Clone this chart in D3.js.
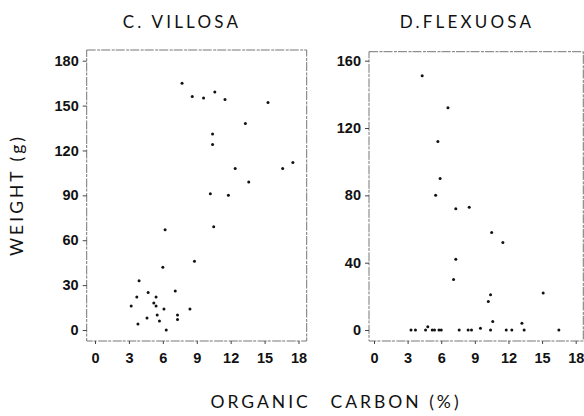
<!DOCTYPE html>
<html lang="en">
<head>
  <meta charset="UTF-8" />
  <title>Weight vs organic carbon</title>
  <script src="https://d3js.org/d3.v7.min.js"></script>
  <style>
    body { margin: 0; background: white; }
    svg { display: block; font-family: Lato, "Open Sans", sans-serif; }
    .tick text { font-size: 14.5px; font-weight: bold; fill: #111; }
    .tick line { stroke: #444; }
    .frame { fill: none; stroke: #666; stroke-width: 0.9; stroke-dasharray: 9,1.5,3,1; }
    .title { font-size: 17px; letter-spacing: 3.2px; fill: #111; }
    .label { font-size: 17.5px; letter-spacing: 3px; fill: #111; }
  </style>
</head>
<body>
<svg width="584" height="416"></svg>
<script>
// C. villosa: organic carbon (%) and weight (g)
const villosaCarbon = [7.7, 8.6, 9.6, 10.6, 11.5, 15.3, 13.3, 10.4, 10.4, 12.4, 16.6, 17.5,
  13.6, 10.2, 11.8, 10.5, 6.2, 8.8, 6.0, 3.9, 3.7, 4.7, 5.4, 3.2, 5.2, 5.4, 6.1, 7.1,
  7.3, 7.3, 8.4, 4.6, 5.5, 5.7, 3.8, 6.3];
const villosaWeight = [165, 156, 155, 159, 154, 152, 138, 131, 124, 108, 108, 112,
  99, 91, 90, 69, 67, 46, 42, 33, 22, 25, 22, 16, 18, 16, 14, 26,
  10, 7, 14, 8, 10, 6, 4, 0];

// D. flexuosa
const flexuosaCarbon = [4.3, 6.6, 5.7, 5.9, 5.5, 7.3, 8.5, 10.5, 11.5, 7.3, 7.1, 10.4,
  10.2, 15.1, 10.6, 13.2, 9.5,
  3.3, 3.7, 4.6, 4.8, 5.2, 5.4, 5.8, 6.0, 7.6, 8.4, 8.7, 10.4, 11.8, 12.3, 13.4, 16.5];
const flexuosaWeight = [151, 132, 112, 90, 80, 72, 73, 58, 52, 42, 30, 21,
  17, 22, 5, 4, 1,
  0, 0, 0, 2, 0, 0, 0, 0, 0, 0, 0, 0, 0, 0, 0, 0];

const xTicks = [0, 3, 6, 9, 12, 15, 18];
const villosaTicks = [0, 30, 60, 90, 120, 150, 180];
const flexuosaTicks = [0, 40, 80, 120, 160];

const svg = d3.select("svg");

const panels = [
  { name: "C. VILLOSA", cx: villosaCarbon, w: villosaWeight, yMax: 180, yTicks: villosaTicks,
    xr: [95, 298.5], frame: [86.7, 50, 306.7, 341], titleX: 182 },
  { name: "D.FLEXUOSA", cx: flexuosaCarbon, w: flexuosaWeight, yMax: 160, yTicks: flexuosaTicks,
    xr: [374, 575.7], frame: [369, 51.7, 583.3, 341], titleX: 467 }
];

panels.forEach(p => {
  const x = d3.scaleLinear().domain([0, 18]).range(p.xr);
  const y = d3.scaleLinear().domain([0, p.yMax]).range([330, 60.7]);
  const [x0, y0, x1, y1] = p.frame;

  svg.append("rect").attr("class", "frame")
    .attr("x", x0).attr("y", y0).attr("width", x1 - x0).attr("height", y1 - y0);

  const ax = svg.append("g").attr("transform", `translate(0,${y1})`)
    .call(d3.axisBottom(x).tickValues(xTicks).tickSize(3).tickPadding(9));
  ax.select(".domain").remove();

  const ay = svg.append("g").attr("transform", `translate(${x0},0)`)
    .call(d3.axisLeft(y).tickValues(p.yTicks).tickSize(4).tickPadding(4));
  ay.select(".domain").remove();

  svg.append("g").selectAll("circle")
    .data(p.cx.map((c, i) => [c, p.w[i]]))
    .join("circle")
    .attr("cx", d => x(d[0]))
    .attr("cy", d => y(d[1]))
    .attr("r", 1.5)
    .attr("fill", "#111");

  svg.append("text").attr("class", "title")
    .attr("x", p.titleX).attr("y", 28).attr("text-anchor", "middle")
    .text(p.name);
});

svg.append("text").attr("class", "label")
  .attr("transform", "translate(23,195) rotate(-90)")
  .attr("text-anchor", "middle")
  .text("WEIGHT (g)");

const xl = svg.append("text").attr("class", "label")
  .attr("x", 336).attr("y", 408).attr("text-anchor", "middle");
xl.append("tspan").text("ORGANIC");
xl.append("tspan").attr("dx", 20).text("CARBON (%)");
</script>
</body>
</html>
